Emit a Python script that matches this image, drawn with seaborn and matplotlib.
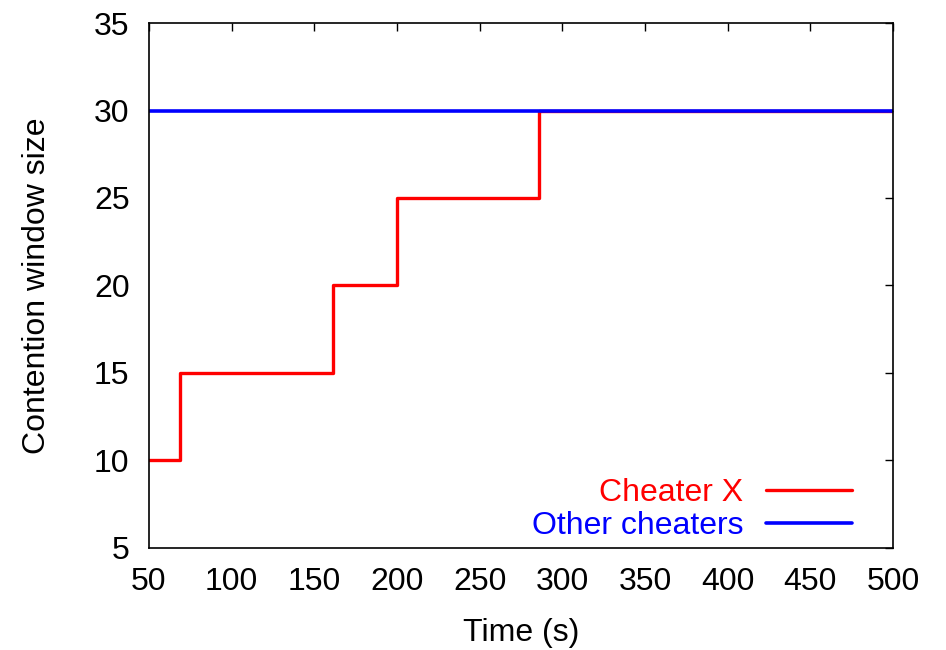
import matplotlib
matplotlib.use("Agg")
import matplotlib.pyplot as plt
import seaborn as sns
import pandas as pd

# Data
cheater_x_time = [50, 69, 161, 200, 286, 500]
cheater_x_cw = [10, 15, 20, 25, 30, 30]
other_time = [50, 500]
other_cw = [30, 30]
x_ticks = [50, 100, 150, 200, 250, 300, 350, 400, 450, 500]
y_ticks = [5, 10, 15, 20, 25, 30, 35]

sns.set_theme(style="white")
plt.rcParams['font.family'] = ['Liberation Sans', 'DejaVu Sans']
plt.rcParams['text.color'] = 'black'
plt.rcParams['axes.labelcolor'] = 'black'

FS = 23

fig = plt.figure(figsize=(9.46, 6.5), dpi=100)
ax = fig.add_axes([0.1575, 0.157, 0.944 - 0.1575, 0.9646 - 0.157])

df_red = pd.DataFrame({"t": cheater_x_time, "cw": cheater_x_cw})
df_blue = pd.DataFrame({"t": other_time, "cw": other_cw})

sns.lineplot(data=df_red, x="t", y="cw", ax=ax, color="#ff0000", linewidth=2.4,
             drawstyle="steps-post", label="Cheater X", estimator=None, sort=False)
sns.lineplot(data=df_blue, x="t", y="cw", ax=ax, color="#0000ff", linewidth=2.6,
             label="Other cheaters", estimator=None, sort=False)

ax.set_xlim(50, 500)
ax.set_ylim(5, 35)
ax.set_xticks(x_ticks)
ax.set_yticks(y_ticks)
ax.tick_params(axis="both", which="both", direction="in", length=6, width=1,
               top=True, right=True, labelsize=FS, colors="black", pad=14)
for s in ax.spines.values():
    s.set_visible(True)
    s.set_color("black")
    s.set_linewidth(1.2)

ax.set_xlabel("Time (s)", fontsize=FS, labelpad=15)
ax.set_ylabel("Contention window size", fontsize=FS, labelpad=30)

leg = ax.legend(loc="lower right", bbox_to_anchor=(0.962, -0.011), frameon=False,
                markerfirst=False, labelcolor="linecolor", fontsize=FS,
                handlelength=2.7, handletextpad=0.7, labelspacing=0.1,
                borderaxespad=0)
for t in leg.get_texts():
    t.set_ha("right")

fig.savefig("out.png", dpi=100)
